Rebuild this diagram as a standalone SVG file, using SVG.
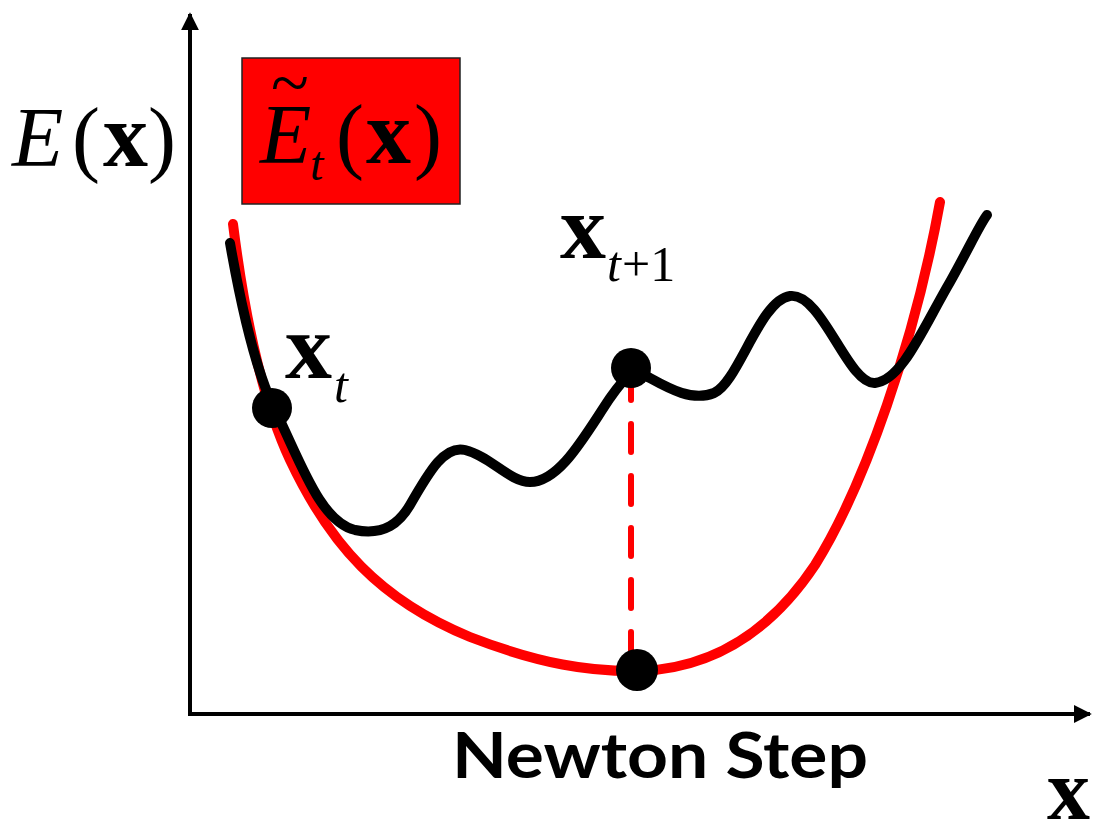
<svg xmlns="http://www.w3.org/2000/svg" width="1094" height="825" viewBox="0 0 1094 825">
<style>
.serif{font-family:"Liberation Serif","Times New Roman",serif;fill:#000}
.it{font-style:italic}
.bd{font-weight:bold}
.axis{stroke:#000;stroke-width:4;fill:none}
.curve{fill:none;stroke-width:10;stroke-linecap:round;stroke-linejoin:round}
</style>
<defs>
<marker id="arr" viewBox="0 0 10 10" refX="9" refY="5" markerWidth="4.5" markerHeight="4.5" orient="auto" markerUnits="strokeWidth">
<path d="M0,0 L10,5 L0,10 z" fill="#000"/>
</marker>
</defs>
<g id="connectors">
<line class="axis" x1="190" y1="716" x2="190" y2="14" marker-end="url(#arr)"/>
<line class="axis" x1="188" y1="714" x2="1090" y2="714" marker-end="url(#arr)"/>
<line x1="631" y1="372" x2="631" y2="668" stroke="#f00" stroke-width="6" stroke-dasharray="28,24" stroke-linecap="round"/>
</g>
<g id="red-curve">
<path class="curve" stroke="#f00" d="M233,224 C245,320 262,400 290,460 C330,545 380,600 470,637 C540,664 590,672 640,671 C720,668 775,625 815,565 C865,485 915,340 940,202"/>
</g>
<g id="black-curve">
<path class="curve" stroke="#000" d="M230,243 C240,300 255,370 275,410 C300,460 320,522 355,530 C385,536 400,522 410,505 C430,470 445,445 465,450 C490,456 510,482 530,482 C560,482 585,435 610,398 C622,381 632,366 648,377 C668,388 692,402 714,393 C738,383 760,300 790,296 C822,292 848,385 875,383 C902,380 922,330 950,282 C968,250 980,224 987,215"/>
</g>
<g id="dots">
<circle cx="272" cy="408" r="20" fill="#000"/>
<circle cx="631" cy="368" r="20" fill="#000"/>
<circle cx="637" cy="670" r="21" fill="#000"/>
</g>
<g id="y-label">
<text class="serif" x="12" y="166" font-size="84"><tspan class="it">E</tspan><tspan x="72">(</tspan><tspan class="bd" font-size="90" x="103">x</tspan><tspan x="148">)</tspan></text>
</g>
<g id="approx-box">
<rect x="242" y="58" width="218" height="146" fill="#f00" stroke="#222" stroke-width="1.5"/>
<text class="serif it" x="260" y="163" font-size="84">E</text>
<text class="serif" x="271" y="106" font-size="70">~</text>
<text class="serif it" x="310" y="180" font-size="48">t</text>
<text class="serif" x="336" y="163" font-size="84">(</text>
<text class="serif bd" x="366" y="163" font-size="90">x</text>
<text class="serif" x="414" y="163" font-size="84">)</text>
</g>
<g id="label-xt">
<text class="serif bd" x="285" y="378" font-size="94">x</text>
<text class="serif it" x="334" y="402" font-size="50">t</text>
</g>
<g id="label-xt1">
<text class="serif bd" x="560" y="258" font-size="92">x</text>
<text class="serif it" x="607" y="281" font-size="50">t</text>
<text class="serif" x="622" y="281" font-size="50">+1</text>
</g>
<g id="title">
<text x="452" y="778" font-family="Lato,'Open Sans',sans-serif" font-weight="bold" font-size="64" textLength="416" lengthAdjust="spacingAndGlyphs">Newton Step</text>
</g>
<g id="x-label">
<text class="serif bd" x="1047" y="819" font-size="86">x</text>
</g>
</svg>
